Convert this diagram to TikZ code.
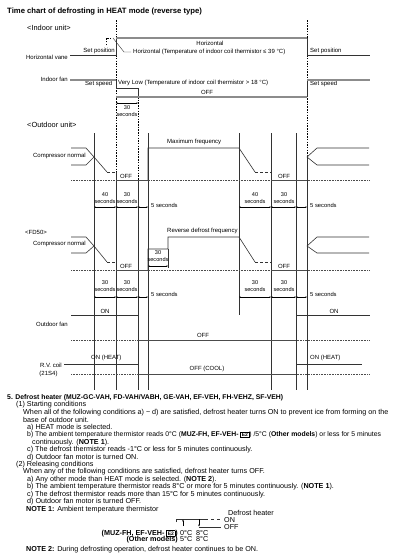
\documentclass[tikz,border=0pt]{standalone}
\usepackage{fontspec}
\setmainfont{Liberation Sans}
\usetikzlibrary{arrows.meta}

\newcommand\modelbox[1]{{\setlength\fboxsep{0.8pt}\setlength\fboxrule{0.6pt}%
    \fbox{\bfseries\fontsize{5}{5}\selectfont #1}}}

\begin{document}
\begin{tikzpicture}[
        x=1pt, y=-1pt,
        every node/.style={inner sep=0pt, font=\fontsize{6}{7}\selectfont},
        head/.style={anchor=west, font=\bfseries\fontsize{7.7}{9}\selectfont},
        unit/.style={anchor=west, font=\fontsize{7.4}{9}\selectfont},
        body/.style={anchor=west, font=\fontsize{7.2}{7.4}\selectfont},
        dimlbl/.style={align=center, font=\fontsize{5.6}{7}\selectfont},
        sig/.style={line width=0.6pt, draw=black!80},
        lvl/.style={line width=1.1pt, draw=black!45},
        thick/.style={line width=1pt, draw=black!70},
        base/.style={densely dotted, line width=0.6pt, draw=black!70},
        guide/.style={dashed, dash pattern=on 1.5pt off 1.2pt, line width=0.5pt},
        dim/.style={{Stealth[length=1.6pt,width=1.4pt]}-{Stealth[length=1.6pt,width=1.4pt]},
            line width=0.4pt},
        tip/.style={-{Stealth[length=2pt,width=1.6pt]}, line width=0.5pt}
    ]
        \path[fill=white] (0,0) rectangle (404,557);

        % Title
        \node[head] (title) at (7,12)
            {Time chart of defrosting in HEAT mode (reverse type)};

        % Indoor unit
        \node[unit] (indoor) at (27,28) {<Indoor unit>};
        \draw[guide] (116,20) -- (116,180);
        \draw[guide] (307,20) -- (307,155);
        \draw[guide] (138,97) -- (138,180);

        \node[anchor=east] (vane) at (68,57) {Horizontal vane};
        \node[anchor=east] (setpos) at (115,51) {Set position};
        \node (horiz) at (210,43) {Horizontal};
        \node[anchor=west] (horizcond) at (133,52)
            {Horizontal (Temperature of indoor coil thermistor ≤ 39 °C)};
        \node[anchor=west] (setposr) at (310,51) {Set position};
        \draw[sig] (70,55) -- (116,55) -- (116,38);
        \draw[lvl] (116,38) -- (307,38);
        \draw[sig] (307,38) -- (307,55) -- (370,55);
        \draw[guide] (106,45) -- (106,38) -- (112,38);
        \draw[sig, line width=0.4pt] (113,38) -- (124,52) -- (131,52);

        \node[anchor=east] (infan) at (68,79) {Indoor fan};
        \node[anchor=west] (setspd) at (85,84) {Set speed};
        \node[anchor=west] (verylow) at (118,83)
            {Very Low (Temperature of indoor coil thermistor > 18 °C)};
        \node (fanoff) at (207,92) {OFF};
        \node[anchor=west] (setspdr) at (310,84) {Set speed};
        \draw[lvl] (70,80) -- (116,80);
        \draw[sig] (116,80) -- (116,88) -- (138,88) -- (138,97);
        \draw[lvl] (116,97) -- (307,97);
        \draw[sig] (307,97) -- (307,80);
        \draw[lvl] (307,80) -- (370,80);

        \draw[dim] (116,103) -- (138,103);
        \node[dimlbl] (wait) at (127,111) {30\\seconds};

        % Outdoor unit
        \node[unit] (outdoor) at (27,125) {<Outdoor unit>};
        \draw[sig] (116,180) -- (116,390);
        \draw[sig] (138,180) -- (138,390);
        \draw[sig] (307,155) -- (307,390);
        \foreach \x/\y in {94/390, 148/390, 239/315, 271/390, 296/390}
            \draw[sig] (\x,133) -- (\x,\y);

        \node[anchor=east] (comp) at (86,156) {Compressor normal};
        \node[anchor=west] (maxf) at (167,142) {Maximum frequency};
        \node (off1) at (126,176) {OFF};
        \node (off2) at (284,176) {OFF};
        \draw[base] (71,180) -- (370,180);
        \draw[sig] (71,148) -- (86,148) -- (94,157) -- (86,165) -- (71,165);
        \draw[sig] (94,157) -- (107,172);
        \draw[sig, densely dashed] (107,172) -- (116,172);
        \draw[sig] (116,172) -- (116,180);
        \draw[thick] (116,180) -- (148,180);
        \draw[sig] (148,180) -- (148,148) -- (239,148) -- (255,172);
        \draw[sig, densely dashed] (255,172) -- (271,172);
        \draw[thick] (271,180) -- (307,180);
        \draw[sig] (369,148) -- (317,148) -- (307,157) -- (317,165) -- (369,165);

        \foreach \a/\b in {94/116, 116/138, 138/148, 239/271, 271/296, 296/307}
            \draw[dim] (\a,207) -- (\b,207);
        \foreach \c/\t in {105/40, 127/30, 255/40, 284/30}
            \node[dimlbl] (d\c) at (\c,198) {\t\\seconds};
        \node[anchor=west, font=\fontsize{5.8}{7}\selectfont] (fivel) at (151,205) {5 seconds};
        \node[anchor=west, font=\fontsize{5.8}{7}\selectfont] (fiver) at (310,205) {5 seconds};

        % FD50
        \node[anchor=west] (fd) at (25,232) {<FD50>};
        \node[anchor=east] (compfd) at (86,244) {Compressor normal};
        \node[anchor=west] (revf) at (167,231) {Reverse defrost frequency};
        \node (off3) at (126,266) {OFF};
        \node (off4) at (284,266) {OFF};
        \draw[base] (71,270) -- (370,270);
        \draw[sig] (71,237) -- (86,237) -- (94,246) -- (86,253) -- (71,253);
        \draw[sig] (94,246) -- (107,262);
        \draw[sig, densely dashed] (107,262) -- (116,262);
        \draw[thick] (116,270) -- (148,270);
        \draw[sig] (148,270) -- (148,249) -- (168,249) -- (168,237) -- (239,237) -- (255,262);
        \draw[sig] (168,249) -- (168,268);
        \draw[sig, densely dashed] (255,262) -- (271,262);
        \draw[thick] (271,270) -- (307,270);
        \draw[sig] (369,237) -- (317,237) -- (307,246) -- (317,253) -- (369,253);
        \node[dimlbl] (hold) at (158,256) {30\\seconds};
        \draw[dim] (148,266) -- (168,266);

        \foreach \a/\b in {94/116, 116/138, 138/148, 239/271, 271/296, 296/307}
            \draw[dim] (\a,297) -- (\b,297);
        \foreach \c in {105, 127, 255, 284}
            \node[dimlbl] (e\c) at (\c,286.5) {30\\seconds};
        \node[anchor=west, font=\fontsize{5.8}{7}\selectfont] (fivefl) at (151,294) {5 seconds};
        \node[anchor=west, font=\fontsize{5.8}{7}\selectfont] (fivefr) at (310,294) {5 seconds};

        % Outdoor fan
        \node (on1) at (105,311) {ON};
        \node (on2) at (334,311) {ON};
        \node[anchor=east] (outfan) at (68,324) {Outdoor fan};
        \node (off5) at (203,335) {OFF};
        \draw[base] (71,340) -- (370,340);
        \draw[sig] (71,315) -- (138,315);
        \draw[thick] (138,340) -- (296,340);
        \draw[sig] (296,315) -- (370,315);

        % R.V. coil
        \node[anchor=east] (rv) at (62,365) {R.V. coil};
        \node (rvno) at (48.5,374) {(21S4)};
        \node[anchor=west] (heat1) at (91,358) {ON (HEAT)};
        \node[anchor=west] (heat2) at (310,358) {ON (HEAT)};
        \node (cool) at (207,369) {OFF (COOL)};
        \draw[base] (71,374) -- (370,374);
        \draw[sig] (64,364) -- (138,364);
        \draw[thick] (138,374) -- (296,374);
        \draw[sig] (296,364) -- (362,364);

        % Defrost heater text
        \node[body, font=\bfseries\fontsize{6.85}{8}\selectfont] (sec5) at (7,397.5)
            {5. Defrost heater (MUZ-GC-VAH, FD-VAH/VABH, GE-VAH, EF-VEH, FH-VEHZ, SF-VEH)};
        \node[body] (s1) at (16,405) {(1) Starting conditions};
        \node[body] (s1a) at (23,412.5) {When all of the following conditions a) \textasciitilde{} d) are satisfied, defrost heater turns ON to prevent ice from forming on the};
        \node[body] (s1b) at (23,419.9) {base of outdoor unit.};
        \node[body] (s1c) at (27,427.4) {a) HEAT mode is selected.};
        \node[body, font=\fontsize{6.85}{7.4}\selectfont] (s1d) at (27,434.8) {b) The ambient temperature thermistor reads 0°C ({\bfseries MUZ-FH, EF-VEH-} \modelbox{E2}) /5°C ({\bfseries Other models}) or less for 5 minutes};
        \node[body] (s1e) at (32,442.3) {continuously. ({\bfseries NOTE 1}).};
        \node[body] (s1f) at (27,449.7) {c) The defrost thermistor reads -1°C or less for 5 minutes continuously.};
        \node[body] (s1g) at (27,457.2) {d) Outdoor fan motor is turned ON.};
        \node[body] (s2) at (16,464.6) {(2) Releasing conditions};
        \node[body] (s2a) at (23,472.1) {When any of the following conditions are satisfied, defrost heater turns OFF.};
        \node[body] (s2b) at (27,479.5) {a) Any other mode than HEAT mode is selected. ({\bfseries NOTE 2}).};
        \node[body] (s2c) at (27,487) {b) The ambient temperature thermistor reads 8°C or more for 5 minutes continuously. ({\bfseries NOTE 1}).};
        \node[body] (s2d) at (27,494.4) {c) The defrost thermistor reads more than 15°C for 5 minutes continuously.};
        \node[body] (s2e) at (27,501.9) {d) Outdoor fan motor is turned OFF.};
        \node[body] (n1) at (26,509.3) {{\bfseries NOTE 1:} Ambient temperature thermistor};

        % NOTE 1 hysteresis
        \node[body] (heater) at (228,513) {Defrost heater};
        \node[body] (hon) at (224,520) {ON};
        \node[body] (hoff) at (224,527) {OFF};
        \draw[sig, line width=0.5pt] (176,522) -- (176,519) -- (205,519);
        \draw[sig, line width=0.5pt, dashed] (205,519) -- (221,519);
        \draw[sig, line width=0.5pt] (199,527) -- (221,527);
        \draw[tip] (183,526) -- (183,519.5);
        \draw[tip] (199,519) -- (199,526.5);
        \node[body, anchor=east] (mfh) at (178,533.5)
            {\bfseries (MUZ-FH, EF-VEH- \modelbox{E2})};
        \node[body, anchor=east] (others) at (178,539.5) {\bfseries (Other models)};
        \node[body] (t1) at (180,533.5) {0°C};
        \node[body] (t2) at (196,533.5) {8°C};
        \node[body] (t3) at (180,539.5) {5°C};
        \node[body] (t4) at (196,539.5) {8°C};
        \node[body] (n2) at (26,550)
            {{\bfseries NOTE 2:} During defrosting operation, defrost heater continues to be ON.};
\end{tikzpicture}
\end{document}
